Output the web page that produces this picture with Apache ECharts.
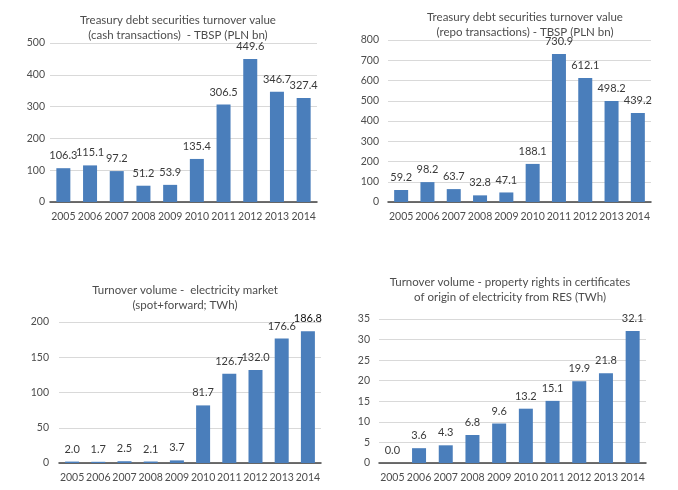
<!DOCTYPE html>
<html><head><meta charset="utf-8">
<script src="https://cdn.jsdelivr.net/npm/echarts@6/dist/echarts.min.js"></script>
<style>html,body{margin:0;padding:0;background:#fff}#c{width:678px;height:490px}</style>
</head><body><div id="c"></div>
<script>
const years = ['2005','2006','2007','2008','2009','2010','2011','2012','2013','2014'];
const cashValues = [106.3,115.1,97.2,51.2,53.9,135.4,306.5,449.6,346.7,327.4];
const repoValues = [59.2,98.2,63.7,32.8,47.1,188.1,730.9,612.1,498.2,439.2];
const electricityValues = [2.0,1.7,2.5,2.1,3.7,81.7,126.7,132.0,176.6,186.8];
const certificateValues = [0.0,3.6,4.3,6.8,9.6,13.2,15.1,19.9,21.8,32.1];
const titles = [
  'Treasury debt securities turnover value\n(cash transactions)  - TBSP (PLN bn)',
  'Treasury debt securities turnover value\n(repo transactions) - TBSP (PLN bn)',
  'Turnover volume -  electricity market\n(spot+forward; TWh)',
  'Turnover volume - property rights in certificates\nof origin of electricity from RES (TWh)'
];
const yMax = [500,800,200,35];
const yInterval = [100,100,50,5];

const FONT = 'Lato';
const BAR = '#4a7ebb';
const grids = [
  {left:50, right:361, top:43, bottom:288},
  {left:388, right:27, top:40, bottom:288},
  {left:59, right:357, top:322, bottom:27},
  {left:379, right:32, top:319, bottom:27}
];
const titlePos = [
  {left:173, top:8},
  {left:520, top:5},
  {left:180, top:278},
  {left:505, top:270}
];
const seriesData = [cashValues, repoValues, electricityValues, certificateValues];
const labelMargin = [5,9,10,9];

const option = {
  backgroundColor:'#fff',
  animation:false,
  textStyle:{fontFamily:FONT},
  title: titles.map((t,i)=>({
    text:t, left:titlePos[i].left, top:titlePos[i].top, textAlign:'center',
    textStyle:{fontFamily:FONT, fontSize:11.5, fontWeight:'normal', color:'#4d4d4d', lineHeight:15}
  })),
  grid: grids,
  xAxis: grids.map((g,i)=>({
    type:'category', gridIndex:i, data:years,
    axisLine:{lineStyle:{color:'#404040', width:1.5}},
    axisTick:{show:false},
    axisLabel:{fontFamily:FONT, fontSize:10.5, color:'#4d4d4d', margin:9, interval:0}
  })),
  yAxis: grids.map((g,i)=>({
    type:'value', gridIndex:i, min:0, max:yMax[i], interval:yInterval[i],
    axisLine:{show:false}, axisTick:{show:false},
    splitLine:{lineStyle:{color:'#d9d9d9'}},
    axisLabel:{fontFamily:FONT, fontSize:10.5, color:'#4d4d4d', margin:labelMargin[i]}
  })),
  series: seriesData.map((d,i)=>({
    type:'bar', xAxisIndex:i, yAxisIndex:i,
    data: d.map((v,j)=> (i===2 && j===9) ? {value:v, label:{color:'#111'}} : v),
    barWidth:14,
    itemStyle:{color:BAR},
    label:{show:true, position:'top', distance:7, fontFamily:FONT, fontSize:11, color:'#3a3a3a',
      formatter:p=>Number(p.value).toFixed(1)}
  }))
};
echarts.init(document.getElementById('c')).setOption(option);
</script></body></html>
